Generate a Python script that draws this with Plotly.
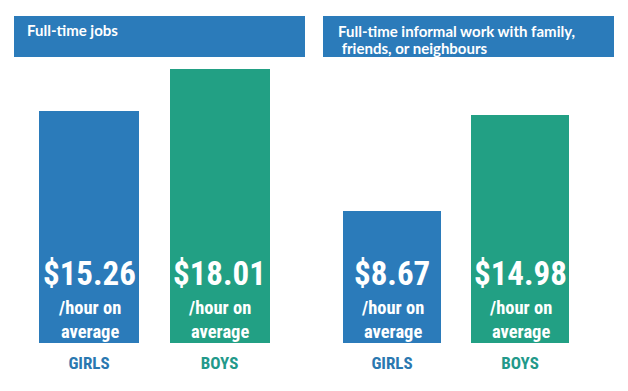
import plotly.graph_objects as go
from plotly.subplots import make_subplots

categories = ["GIRLS", "BOYS"]
full_time_jobs = [15.26, 18.01]
informal_work = [8.67, 14.98]
panel_titles = ["Full-time jobs", "Full-time informal work with family,<br> friends, or neighbours"]
unit_text = "/hour on<br>average"

OFF = 8  # page body margin
W, H = 628 - OFF, 391 - OFF
BLUE = "#2b7bba"
GREEN = "#22a084"
BLUE_TXT = "#2a78b0"
GREEN_TXT = "#22998a"
COND = "Roboto Condensed, Open Sans Condensed, Noto Sans Condensed, DejaVu Sans Condensed, sans-serif"
HEAD = "Lato, Open Sans, sans-serif"

def px_x(p):
    return (p - OFF) / W

def px_y(p):
    return (H - (p - OFF)) / H

fig = make_subplots(rows=1, cols=2)
bar_colors = [BLUE, GREEN]
for col, vals in [(1, full_time_jobs), (2, informal_work)]:
    fig.add_trace(go.Bar(x=categories, y=vals, marker=dict(color=bar_colors, line=dict(width=0)),
                         width=0.77, hoverinfo="skip", showlegend=False), row=1, col=col)

ticktext = [f'<span style="color:{BLUE_TXT}">{categories[0]}</span>',
            f'<span style="color:{GREEN_TXT}">{categories[1]}</span>']
xdomains = [[px_x(23.75), px_x(284.75)], [px_x(328), px_x(584)]]
for i, ax in enumerate(["xaxis", "xaxis2"]):
    fig.layout[ax].update(domain=xdomains[i], type="category", range=[-0.5, 1.5], showgrid=False,
                          zeroline=False, showline=False, ticks="", tickvals=categories, ticktext=ticktext,
                          tickfont=dict(family=COND, size=17, weight="bold"), ticklabelstandoff=8,
                          fixedrange=True)
for ax in ["yaxis", "yaxis2"]:
    fig.layout[ax].update(domain=[px_y(343), px_y(43)], range=[0, 300 / 15.2], visible=False,
                          fixedrange=True)

# headers
header_boxes = [(14, 305), (323, 614)]
for (x0, x1) in header_boxes:
    fig.add_shape(type="rect", xref="paper", yref="paper", x0=px_x(x0), x1=px_x(x1),
                  y0=px_y(57), y1=px_y(16), fillcolor=BLUE, line=dict(width=0), layer="below")
fig.add_annotation(text=panel_titles[0], xref="paper", yref="paper", x=px_x(25), y=px_y(30),
                   xanchor="left", yanchor="middle", showarrow=False, align="left",
                   font=dict(family=HEAD, size=15, color="white", weight="bold"))
for j, line in enumerate(panel_titles[1].split("<br>")):
    fig.add_annotation(text=line.replace(" ", "&nbsp;", 1) if line.startswith(" ") else line,
                       xref="paper", yref="paper", x=px_x(336), y=px_y(30.5 + 17 * j),
                       xanchor="left", yanchor="middle", showarrow=False, align="left",
                       font=dict(family=HEAD, size=15, color="white", weight="bold"))

# in-bar labels
for xref, vals in [("x", full_time_jobs), ("x2", informal_work)]:
    for cat, v in zip(categories, vals):
        fig.add_annotation(text=f"${v:.2f}", xref=xref, yref="paper", x=cat, y=px_y(274),
                           xanchor="center", yanchor="middle", showarrow=False,
                           font=dict(family=COND, size=33, color="white", weight="bold"))
        fig.add_annotation(text=unit_text, xref=xref, yref="paper", x=cat, y=px_y(320),
                           xanchor="center", yanchor="middle", showarrow=False, align="center",
                           font=dict(family=COND, size=18.5, color="white", weight="bold"))

fig.update_layout(width=W, height=H, margin=dict(l=0, r=0, t=0, b=0),
                  paper_bgcolor="white", plot_bgcolor="white", bargap=0)
fig.write_html("out.html")
